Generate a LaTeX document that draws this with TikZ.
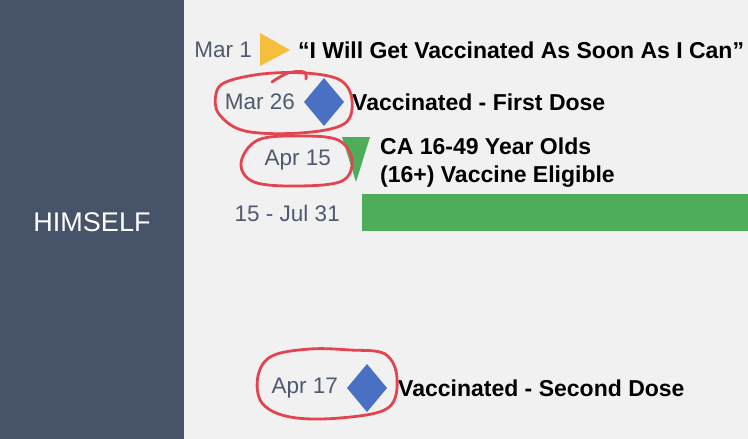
\documentclass[tikz,border=0pt]{standalone}
\usepackage{fontspec}
\setmainfont{Liberation Sans}
\definecolor{bg}{HTML}{F1F1F1}
\definecolor{panel}{HTML}{475369}
\definecolor{dategray}{HTML}{4F5A6E}
\definecolor{yel}{HTML}{F5BE3C}
\definecolor{blu}{HTML}{4A70C4}
\definecolor{grn}{HTML}{4EAD5B}
\definecolor{ink}{HTML}{E2454F}
\begin{document}
\begin{tikzpicture}[x=1pt,y=-1pt,
  datelbl/.style={anchor=east,inner sep=0pt,text=dategray,font=\fontsize{22.5}{26}\selectfont},
  evtlbl/.style={anchor=west,inner sep=0pt,text=black,font=\bfseries\fontsize{23}{28}\selectfont,align=left},
  scrawl/.style={draw=ink,line width=2.8pt,line cap=round,line join=round}]
\fill[bg] (0,0) rectangle (748,439);
\useasboundingbox (0,0) rectangle (748,439);
\fill[panel] (0,0) rectangle (184,439);
\node[text=white,font=\fontsize{27}{32}\selectfont,inner sep=0pt] (who) at (92,222) {HIMSELF};

% Mar 1
\node[datelbl] (d1) at (252,50) {Mar 1};
\fill[yel] (260,33) -- (290,50) -- (260,66) -- cycle;
\node[evtlbl] (e1) at (298,50) {“I Will Get Vaccinated As Soon As I Can”};

% Mar 26
\node[datelbl] (d2) at (295,102) {Mar 26};
\fill[blu] (324,78) -- (344,102) -- (324,126) -- (304,102) -- cycle;
\node[evtlbl] (e2) at (352,102) {Vaccinated - First Dose};

% Apr 15
\node[datelbl] (d3) at (331,160) {Apr 15};
\fill[grn] (342,137) -- (370,137) -- (356,182) -- cycle;
\node[evtlbl] (e3) at (380,163) {CA 16-49 Year Olds\\(16+) Vaccine Eligible};

% bar
\node[datelbl] (d4) at (340,213) {15 - Jul 31};
\fill[grn] (362,194) rectangle (748,231);

% Apr 17
\node[datelbl] (d5) at (338,388) {Apr 17};
\fill[blu] (367,364) -- (387,388) -- (367,412) -- (347,388) -- cycle;
\node[evtlbl] (e5) at (398,388) {Vaccinated - Second Dose};

% red scrawls
\draw[scrawl] plot[smooth cycle,tension=0.6] coordinates {(226,82) (262,74) (305,73) (340,80) (352,100) (344,124) (300,133) (245,131) (219,114) (216,94)};
\draw[scrawl] plot[smooth,tension=0.6] coordinates {(272,82) (288,73) (304,72) (306,79)};
\draw[scrawl] plot[smooth cycle,tension=0.6] coordinates {(258,140) (300,136) (338,140) (352,160) (342,181) (298,186) (254,182) (241,163)};
\draw[scrawl] plot[smooth cycle,tension=0.6] coordinates {(272,356) (310,349) (350,350) (385,354) (397,378) (388,408) (340,418) (290,417) (262,403) (258,376)};
\end{tikzpicture}
\end{document}
